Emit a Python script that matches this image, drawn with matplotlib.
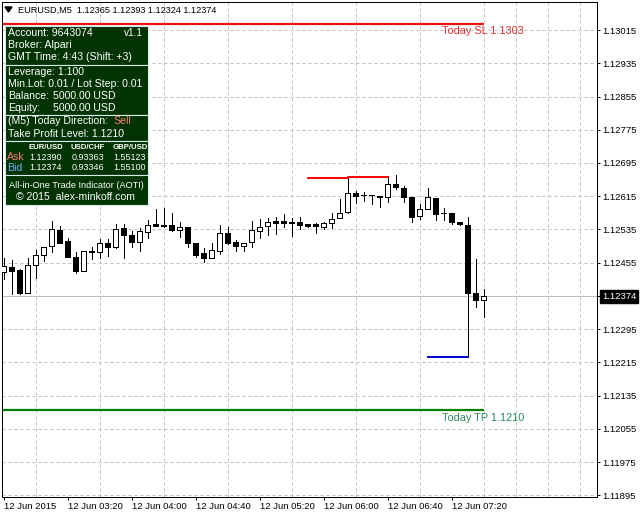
import matplotlib
matplotlib.use('Agg')
import matplotlib.pyplot as plt
from matplotlib.patches import Rectangle, Polygon
import numpy as np

plt.rcParams['font.family'] = ['Liberation Sans', 'DejaVu Sans']

# EURUSD M5 candles, 12 Jun 2015 from 02:40
opens = [1.12433, 1.12445, 1.12438, 1.12382, 1.12450, 1.12474, 1.12495, 1.12534, 1.12507, 1.12469,
         1.12435, 1.12484, 1.12481, 1.12503, 1.12493, 1.12539, 1.12522, 1.12505, 1.12529, 1.12548,
         1.12545, 1.12546, 1.12534, 1.12541, 1.12503, 1.12478, 1.12466, 1.12483, 1.12527, 1.12505,
         1.12495, 1.12505, 1.12531, 1.12543, 1.12555, 1.12555, 1.12553, 1.12553, 1.12548, 1.12548,
         1.12541, 1.12551, 1.12563, 1.12577, 1.12623, 1.12618, 1.12618, 1.12616, 1.12613, 1.12644,
         1.12635, 1.12613, 1.12568, 1.12584, 1.12611, 1.12575, 1.12575, 1.12553, 1.12546, 1.12382,
         1.12365]
highs = [1.12466, 1.12462, 1.12440, 1.12466, 1.12486, 1.12493, 1.12555, 1.12543, 1.12515, 1.12481,
         1.12483, 1.12493, 1.12512, 1.12512, 1.12548, 1.12548, 1.12531, 1.12539, 1.12558, 1.12584,
         1.12587, 1.12575, 1.12553, 1.12541, 1.12503, 1.12491, 1.12503, 1.12546, 1.12541, 1.12510,
         1.12503, 1.12555, 1.12560, 1.12563, 1.12565, 1.12572, 1.12563, 1.12565, 1.12549, 1.12551,
         1.12553, 1.12575, 1.12608, 1.12661, 1.12628, 1.12625, 1.12619, 1.12616, 1.12661, 1.12666,
         1.12640, 1.12613, 1.12596, 1.12635, 1.12611, 1.12587, 1.12575, 1.12554, 1.12565, 1.12464,
         1.12393]
lows = [1.12416, 1.12380, 1.12380, 1.12382, 1.12418, 1.12459, 1.12481, 1.12503, 1.12469, 1.12430,
        1.12435, 1.12464, 1.12466, 1.12471, 1.12491, 1.12466, 1.12493, 1.12483, 1.12515, 1.12543,
        1.12541, 1.12531, 1.12517, 1.12493, 1.12469, 1.12457, 1.12466, 1.12476, 1.12500, 1.12483,
        1.12483, 1.12493, 1.12515, 1.12522, 1.12524, 1.12541, 1.12519, 1.12536, 1.12542, 1.12527,
        1.12536, 1.12539, 1.12563, 1.12575, 1.12599, 1.12604, 1.12596, 1.12589, 1.12601, 1.12632,
        1.12601, 1.12553, 1.12560, 1.12584, 1.12558, 1.12558, 1.12548, 1.12547, 1.12228, 1.12349,
        1.12324]
closes = [1.12447, 1.12435, 1.12382, 1.12450, 1.12474, 1.12493, 1.12536, 1.12503, 1.12469, 1.12435,
          1.12483, 1.12480, 1.12503, 1.12493, 1.12536, 1.12522, 1.12505, 1.12531, 1.12546, 1.12543,
          1.12544, 1.12534, 1.12541, 1.12503, 1.12474, 1.12466, 1.12486, 1.12527, 1.12503, 1.12495,
          1.12503, 1.12534, 1.12541, 1.12553, 1.12551, 1.12551, 1.12550, 1.12546, 1.12543, 1.12543,
          1.12551, 1.12560, 1.12575, 1.12623, 1.12616, 1.12618, 1.12618, 1.12613, 1.12644, 1.12637,
          1.12613, 1.12565, 1.12584, 1.12613, 1.12572, 1.12575, 1.12553, 1.12548, 1.12382, 1.12365,
          1.12374]

time_labels = ['12 Jun 2015', '12 Jun 03:20', '12 Jun 04:00', '12 Jun 04:40',
               '12 Jun 05:20', '12 Jun 06:00', '12 Jun 06:40', '12 Jun 07:20']
label_bars = [0, 8, 16, 24, 32, 40, 48, 56]
price_ticks = [1.11895, 1.11975, 1.12055, 1.12135, 1.12215, 1.12295, 1.12375, 1.12455,
               1.12535, 1.12615, 1.12695, 1.12775, 1.12855, 1.12935, 1.13015]

bid = 1.12374
sl_level = 1.1303
tp_level = 1.1210
day_high_x = [38, 43, 43, 48]
day_high_y = [1.12658, 1.12658, 1.12661, 1.12661]
day_low_x = [53, 58]
day_low_y = [1.12228, 1.12228]

symbols = ['EUR/USD', 'USD/CHF', 'GBP/USD']
ask_quotes = ['1.12390', '0.93363', '1.55123']
bid_quotes = ['1.12374', '0.93346', '1.55100']

PX = 0.72  # one pixel in points at dpi 100

fig = plt.figure(figsize=(6.4, 5.16), dpi=100)
ax = fig.add_axes([2 / 640, 19 / 516, 595 / 640, 495 / 516])
ax.set_xlim(-0.1875, 74.1875)
ax.set_ylim(1.118913, 1.130824)

# grid
ax.set_axisbelow(True)
ax.set_xticks(np.arange(0, 75, 4), minor=True)
ax.grid(True, which='minor', axis='x', color='#c0c0c0', linestyle=(0, (3, 3)), linewidth=PX)
ax.grid(True, which='major', axis='y', color='#c0c0c0', linestyle=(0, (3, 3)), linewidth=PX)
ax.axhline(bid, color='#c0c0c0', lw=PX, zorder=1.5)

# candles
x = np.arange(len(opens))
o = np.array(opens)
c = np.array(closes)
body_colors = ['white' if cc > oo else 'black' for oo, cc in zip(o, c)]
ax.vlines(x, lows, highs, color='black', lw=PX, zorder=3, antialiased=False)
ax.bar(x, c - o, bottom=o, width=0.52, color=body_colors, edgecolor='black',
       linewidth=PX, zorder=4, antialiased=False)

# today's high / low
ax.plot(day_high_x, day_high_y, color='red', lw=1.4, zorder=3)
ax.plot(day_low_x, day_low_y, color='#0000cc', lw=1.4, zorder=3)

# SL / TP levels
x0 = ax.get_xlim()[0]
ax.hlines(sl_level, x0, x[-1], color='#ee1111', lw=1.6, zorder=2)
ax.hlines(tp_level, x0, x[-1], color='#008000', lw=1.6, zorder=2)
ax.annotate(f'Today SL {sl_level:.4f}', xy=(x[-1] - 5, sl_level), xytext=(-1, -7.5),
            textcoords='offset pixels', va='center', ha='left', fontsize=7.8, color='#e0302a')
ax.annotate(f'Today TP {tp_level:.4f}', xy=(x[-1] - 5, tp_level), xytext=(-1, -7.8),
            textcoords='offset pixels', va='center', ha='left', fontsize=7.8, color='#2a8a5a')

# axes styling
for s in ax.spines.values():
    s.set_color('black')
    s.set_linewidth(PX)
ax.set_xticks(label_bars)
ax.set_xticklabels(time_labels, ha='left')
ax.tick_params(axis='x', which='major', length=3 * PX, width=PX, pad=1.5, labelsize=6.8)
ax.tick_params(axis='x', which='minor', length=0)
ax.yaxis.tick_right()
ax.set_yticks(price_ticks)
ax.set_yticklabels(['' if abs(t - bid) < 0.00002 else f'{t:.5f}' for t in price_ticks])
ax.tick_params(axis='y', length=3 * PX, width=PX, pad=2.5 * PX, labelsize=6.8)

ax.annotate(f'{bid:.5f}', xy=(1, bid), xycoords=('axes fraction', 'data'), xytext=(5, 0),
            textcoords='offset pixels', va='center', ha='left', fontsize=6.8, color='white',
            bbox=dict(boxstyle='square,pad=0.2', fc='black', ec='black'), annotation_clip=False)

# overlay in pixel coordinates for header and info panel
ov = fig.add_axes([0, 0, 1, 1], zorder=5)
ov.set_xlim(0, 640)
ov.set_ylim(516, 0)
ov.axis('off')

ov.add_patch(Polygon([[5, 7], [12, 7], [8.5, 12]], closed=True, color='black'))
ohlc = ' '.join(f'{v:.5f}' for v in (opens[-1], highs[-1], lows[-1], closes[-1]))
ov.text(18, 10, 'EURUSD,M5  ' + ohlc, fontsize=6.6, va='center')

for top, bot in [(26, 65), (65, 115), (115, 141), (141, 175), (175, 205)]:
    ov.add_patch(Rectangle((5, top), 143, bot - top, facecolor='#003300',
                           edgecolor='#d8ecec', lw=0.8))


def line(px, py, s, color='white', size=7.6, **kw):
    ov.text(px, py, s, color=color, fontsize=size, va='center', **kw)


line(8, 33, 'Account: 9643074')
line(143, 33, 'v1.1', ha='right', size=7.2)
line(8, 45, 'Broker: Alpari')
line(8, 57.5, 'GMT Time: 4:43 (Shift: +3)')
line(8, 72, 'Leverage: 1:100')
line(8, 84, 'Min.Lot: 0.01 / Lot Step: 0.01')
line(8, 96, 'Balance:')
line(53, 96, '5000.00 USD')
line(8, 108, 'Equity:')
line(53, 108, '5000.00 USD')
line(8, 121.5, '(M5) Today Direction:')
line(113.5, 121.5, 'Sell', color='#fa8072')
line(8, 134, f'Take Profit Level: {tp_level:.4f}')

cols = [46, 88, 130]
for cx, sym, a, b in zip(cols, symbols, ask_quotes, bid_quotes):
    line(cx, 147.5, sym, size=5.6, ha='center', fontweight='bold')
    line(cx, 157.5, a, size=6.5, ha='center')
    line(cx, 168, b, size=6.5, ha='center')
line(7, 157.5, 'Ask', color='#fa8072')
line(7, 168, 'Bid', color='#6cb4ff')

line(76.5, 185, 'All-in-One Trade Indicator (AOTI)', size=6.6, ha='center')
line(75, 197.5, '\u00a9 2015  alex-minkoff.com', ha='center')

fig.savefig('out.png', dpi=100)
